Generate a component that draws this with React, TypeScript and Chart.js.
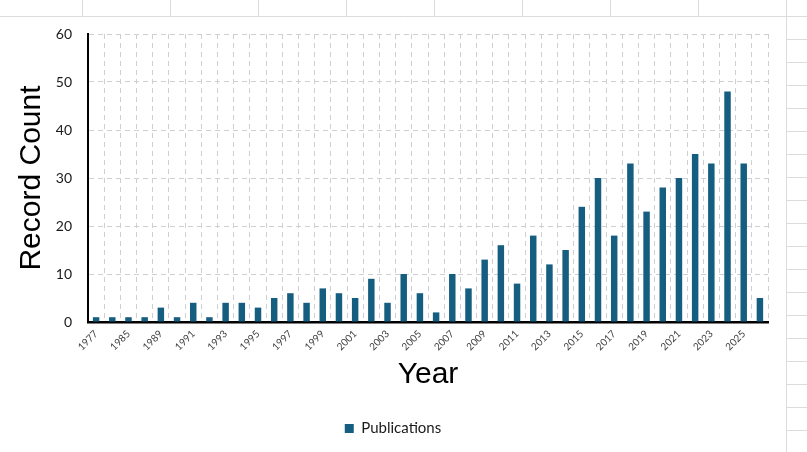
import React, { useEffect, useRef } from 'react';
import { Chart, registerables } from 'chart.js';

Chart.register(...registerables);

const years = [
  '1977', '1983', '1985', '1987', '1989', '1990', '1991', '1992', '1993', '1994',
  '1995', '1996', '1997', '1998', '1999', '2000', '2001', '2002', '2003', '2004',
  '2005', '2006', '2007', '2008', '2009', '2010', '2011', '2012', '2013', '2014',
  '2015', '2016', '2017', '2018', '2019', '2020', '2021', '2022', '2023', '2024',
  '2025', '2026',
];

const publications = [
  1, 1, 1, 1, 3, 1, 4, 1, 4, 4,
  3, 5, 6, 4, 7, 6, 5, 9, 4, 10,
  6, 2, 10, 7, 13, 16, 8, 18, 12, 15,
  24, 30, 18, 33, 23, 28, 30, 35, 33, 48,
  33, 5,
];

const yMin = 0;
const yMax = 60;
const yStep = 10;

const seriesName = 'Publications';
const xTitle = 'Year';
const yTitle = 'Record Count';

const W = 807;
const H = 452;

const sheetPlugin = {
  id: 'sheetBackground',
  beforeDraw(chart: any) {
    const ctx = chart.ctx as CanvasRenderingContext2D;
    const w = chart.width;
    const h = chart.height;
    ctx.save();
    ctx.fillStyle = '#ffffff';
    ctx.fillRect(0, 0, w, h);
    ctx.strokeStyle = '#dcdcdc';
    ctx.lineWidth = 1;
    ctx.beginPath();
    ctx.moveTo(0, 16.5);
    ctx.lineTo(w, 16.5);
    for (let x = 82; x < 786; x += 88) {
      ctx.moveTo(x + 0.5, 0);
      ctx.lineTo(x + 0.5, 16);
    }
    ctx.moveTo(786.5, 0);
    ctx.lineTo(786.5, h);
    for (let y = 39; y < h; y += 23) {
      ctx.moveTo(787, y + 0.5);
      ctx.lineTo(w, y + 0.5);
    }
    ctx.stroke();
    ctx.restore();
  },
};

export default function App() {
  const ref = useRef<HTMLCanvasElement | null>(null);

  useEffect(() => {
    if (!ref.current) return;
    const chart = new Chart(ref.current, {
      type: 'bar',
      data: {
        labels: years,
        datasets: [
          {
            label: seriesName,
            data: publications,
            backgroundColor: '#165e80',
            borderWidth: 0,
            barPercentage: 0.4,
            categoryPercentage: 1,
            yAxisID: 'y',
          },
        ],
      },
      options: {
        responsive: false,
        animation: false,
        layout: { padding: { left: 0, top: 34, right: 21, bottom: 6 } },
        plugins: {
          legend: {
            display: true,
            position: 'bottom',
            labels: {
              boxWidth: 9,
              boxHeight: 9,
              padding: 10,
              color: '#1a1a1a',
              font: { family: 'Lato', size: 15 },
            },
          },
          tooltip: { enabled: false },
        },
        scales: {
          x: {
            grid: {
              display: true,
              color: '#cfcfcf',
              lineWidth: 1,
              drawTicks: false,
              offset: true,
            },
            border: { display: true, color: '#000', width: 2.5, dash: [5, 4] },
            ticks: {
              autoSkip: false,
              minRotation: 45,
              maxRotation: 45,
              padding: 6,
              color: '#404040',
              font: { family: 'Lato', size: 10 },
              callback: (_v: any, i: number) => (i % 2 === 0 ? years[i] : ''),
            },
            title: {
              display: true,
              text: xTitle,
              color: '#000',
              font: { family: 'Liberation Sans', size: 30 },
              padding: { top: 0, bottom: 18 },
            },
            afterFit: (s: any) => {
              s.height = 89;
            },
          },
          y: {
            min: yMin,
            max: yMax,
            grid: { display: true, color: '#cfcfcf', lineWidth: 1, drawTicks: false },
            border: { display: true, color: '#000', width: 2, dash: [5, 4] },
            ticks: {
              stepSize: yStep,
              padding: 16,
              color: '#1a1a1a',
              font: { family: 'Lato', size: 14 },
            },
            title: {
              display: true,
              text: yTitle,
              color: '#000',
              font: { family: 'Liberation Sans', size: 30 },
              padding: { top: 14, bottom: 0 },
            },
            afterFit: (s: any) => {
              s.width = 88;
            },
          },
          yRight: {
            position: 'right',
            display: true,
            grid: { display: false },
            border: { display: false },
            ticks: { display: false },
            afterFit: (s: any) => {
              s.width = 18;
            },
          },
        },
      },
      plugins: [sheetPlugin],
    } as any);
    return () => chart.destroy();
  }, []);

  return (
    <div style={{ position: 'fixed', left: 0, top: 0, width: W, height: H, background: '#fff' }}>
      <canvas ref={ref} width={W} height={H} style={{ width: W, height: H, display: 'block' }} />
    </div>
  );
}
